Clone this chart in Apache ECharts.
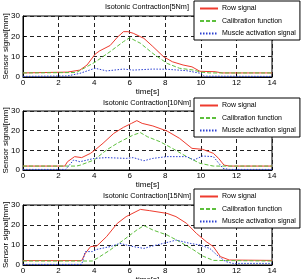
<!DOCTYPE html>
<html>
<head>
<meta charset="utf-8">
<script src="https://cdn.jsdelivr.net/npm/echarts@6/dist/echarts.min.js"></script>
<style>
  html, body { margin: 0; padding: 0; background: #fff; }
  #main { width: 302px; height: 279px; }
</style>
</head>
<body>
<div id="main"></div>
<script>
var titles = ['Isotonic Contraction[5Nm]', 'Isotonic Contraction[10Nm]', 'Isotonic Contraction[15Nm]'];
var seriesNames = ['Row signal', 'Calibration function', 'Muscle activation signal'];
var xTicks = [0, 2, 4, 6, 8, 10, 12, 14];
var yTicks = [0, 10, 20, 30];

// [time s, signal mm]
var row5 = [[0,2],[2.5,2.4],[3.2,3.4],[3.6,5.9],[4.05,11.2],[4.3,12.8],[4.9,15.5],[5.3,19.5],[5.65,22.3],[5.9,22.3],[6.2,21.5],[6.8,19],[7.3,15],[7.9,10],[8.4,7.5],[9.0,5.9],[9.5,5],[9.95,2.8],[10.8,2.6],[11.2,2],[14,2]];
var cal5 = [[0,2],[3,2.2],[3.2,3.2],[4.05,7.3],[4.9,12.5],[5.65,17.4],[6.0,19.3],[6.6,16.6],[7.3,11.6],[8.1,6.7],[8.8,4.3],[9.6,3.4],[10,2.4],[10.5,2],[14,2]];
var mus5 = [[0,0.3],[2.5,0.5],[3.2,1.8],[4.05,4.3],[4.7,3],[5.65,3.9],[6.2,3.4],[7.3,3.9],[8.1,3.8],[9.2,3.1],[10,1.8],[10.2,0.4],[14,0.3]];

var row10 = [[0,2],[2.35,2],[2.5,4.2],[2.9,6.8],[3.3,6.3],[3.8,8.5],[4.05,10.2],[4.5,13.6],[5.1,18.6],[5.65,21.7],[6.1,23.7],[6.4,25.1],[6.7,23.7],[7.3,22.4],[8.1,19.8],[8.8,16.1],[9.5,11],[10.1,10.5],[10.7,8.5],[11,5.9],[11.3,2.5],[11.6,2],[14,2]];
var cal10 = [[0,2],[3,2],[3.2,2.4],[4,5.1],[4.7,10.2],[5.3,13.6],[6.2,17.8],[6.6,19],[7,16.9],[7.7,14.4],[8.4,11],[9.2,6.8],[9.95,3.4],[10.7,2],[14,2]];
var mus10 = [[0,0.3],[2.4,0.3],[2.85,5.1],[3.2,4.2],[4,5.9],[4.7,6.3],[5.8,5.9],[6.2,6.3],[6.8,4.7],[7.3,5.9],[8.1,6.8],[9.2,6.8],[9.6,5.1],[10.1,7.1],[10.7,6.8],[11.25,0.8],[11.6,0.3],[14,0.3]];

var row15 = [[0,2.2],[3.3,2.2],[3.5,5.8],[3.8,9.2],[4.15,9.5],[4.7,14.2],[5.3,20.8],[5.8,24.2],[6.6,27.8],[7.1,27.2],[8.1,25.8],[8.6,24.2],[9.2,20.8],[9.75,15.8],[10.3,11.7],[10.7,9.2],[11.1,4.2],[11.6,2.5],[14,2.3]];
var cal15 = [[0,2],[3.9,2],[4.2,3.5],[4.9,7.5],[5.65,12.5],[6.4,17.5],[6.8,19.7],[7.3,17.5],[8.1,15],[8.8,11.7],[9.6,7.5],[10.1,4.5],[10.7,2.3],[14,2]];
var mus15 = [[0,0.3],[3.3,0.3],[3.5,6.7],[3.9,6.7],[4.15,7.8],[4.9,9.2],[5.45,10.8],[5.8,10],[6.2,9.2],[6.8,8.3],[7.5,10],[8.3,11.7],[8.6,12.5],[9.4,10.8],[9.95,10],[10.5,8.3],[10.9,5],[11.4,1.7],[11.8,0.8],[14,0.8]];

var rowData = [row5, row10, row15];
var calData = [cal5, cal10, cal15];
var musData = [mus5, mus10, mus15];

var font = 'Liberation Sans, Arial, sans-serif';
var gridTops = [16, 111, 205];
var gridHeights = [61, 59, 60];
var titleTops = [3, 99, 192];
var legendTops = [1, 98, 189];
var colors = ['#ee3b2e', '#5cbf3c', '#2a3fd0'];
var lineTypes = ['solid', [4, 2], [1.5, 1.5]];

var chart = echarts.init(document.getElementById('main'), null, { renderer: 'canvas' });

var grid = [], xAxis = [], yAxis = [], title = [], legend = [], series = [];

for (var i = 0; i < 3; i++) {
  grid.push({
    left: 23, right: 30, top: gridTops[i], height: gridHeights[i],
    outerBoundsMode: 'none', containLabel: false,
    show: true, borderColor: '#000', borderWidth: 1, backgroundColor: '#fff'
  });
  title.push({
    text: titles[i], left: 147, top: titleTops[i], textAlign: 'center', padding: 0,
    textStyle: { fontFamily: font, fontSize: 7.3, fontWeight: 'normal', color: '#000' }
  });
  xAxis.push({
    type: 'value', gridIndex: i, min: xTicks[0], max: xTicks[xTicks.length - 1], interval: 2,
    name: 'time[s]', nameLocation: 'middle', nameGap: 11, nameMoveOverlap: false,
    nameTextStyle: { fontFamily: font, fontSize: 8, color: '#000' },
    axisLine: { lineStyle: { color: '#000', width: 1 } },
    axisTick: { inside: true, length: 3, lineStyle: { color: '#000' } },
    axisLabel: { fontFamily: font, fontSize: 8, color: '#000', margin: 2 },
    splitLine: { show: true, lineStyle: { color: '#222', type: [4, 3], width: 1 } }
  });
  yAxis.push({
    type: 'value', gridIndex: i, min: yTicks[0], max: yTicks[yTicks.length - 1], interval: 10,
    name: 'Sensor signal[mm]', nameLocation: 'middle', nameGap: 13, nameMoveOverlap: false,
    nameTextStyle: { fontFamily: font, fontSize: 8, color: '#000' },
    axisLine: { show: true, lineStyle: { color: '#000', width: 1 } },
    axisTick: { show: true, inside: true, length: 3, lineStyle: { color: '#000' } },
    axisLabel: { fontFamily: font, fontSize: 8, color: '#000', margin: 3 },
    splitLine: { show: true, lineStyle: { color: '#222', type: [4, 3], width: 1 } }
  });
  legend.push({
    data: seriesNames, orient: 'vertical', left: 194, top: legendTops[i],
    backgroundColor: '#fff', borderColor: '#000', borderWidth: 1,
    padding: [3, 4, 2, 5], itemWidth: 18, itemHeight: 8, itemGap: 3.5,
    itemStyle: { opacity: 0 },
    textStyle: { fontFamily: font, fontSize: 7, lineHeight: 9, color: '#000', padding: [0, 0, 0, -1] },
    selectedMode: false
  });
  var sets = [rowData[i], calData[i], musData[i]];
  for (var j = 0; j < 3; j++) {
    series.push({
      name: seriesNames[j], type: 'line', xAxisIndex: i, yAxisIndex: i,
      data: sets[j], showSymbol: false, symbol: 'none', smooth: false,
      lineStyle: { color: colors[j], width: 1, type: lineTypes[j] },
      itemStyle: { color: colors[j] },
      animation: false, z: 3 + j
    });
  }
}

chart.setOption({
  animation: false,
  backgroundColor: '#fff',
  title: title,
  legend: legend,
  grid: grid,
  xAxis: xAxis,
  yAxis: yAxis,
  series: series
});
</script>
</body>
</html>
